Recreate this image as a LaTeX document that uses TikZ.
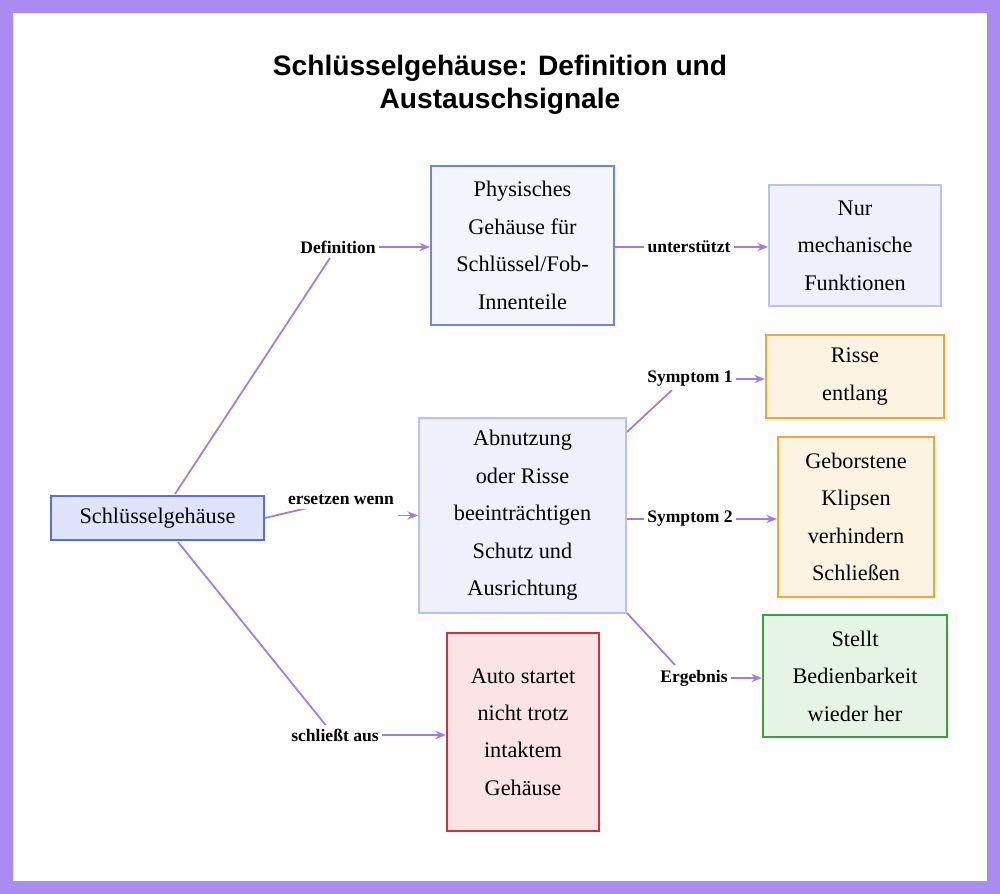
\documentclass[tikz,border=0pt]{standalone}
\usepackage{fontspec}
\setmainfont{Liberation Serif}
\setsansfont{Liberation Sans}
\usetikzlibrary{arrows.meta}
\definecolor{edge}{HTML}{A07CE6}
\definecolor{frame}{HTML}{A98BF2}
\definecolor{bD}{HTML}{5A6FD6}\definecolor{bF}{HTML}{DFE3FB}
\definecolor{pD}{HTML}{6F86DD}\definecolor{pF}{HTML}{F3F5FD}
\definecolor{lD}{HTML}{B6C3F0}\definecolor{lF}{HTML}{EEF0FB}
\definecolor{oD}{HTML}{F0A830}\definecolor{oF}{HTML}{FDF3E3}
\definecolor{gD}{HTML}{3AA040}\definecolor{gF}{HTML}{E6F4E6}
\definecolor{rD}{HTML}{D03040}\definecolor{rF}{HTML}{FBE3E6}
\begin{document}
\begin{tikzpicture}[x=0.03cm,y=-0.03cm,
 box/.style={draw,line width=1.5pt,align=center,font=\fontsize{19}{32}\selectfont,inner sep=0pt},
 lab/.style={fill=white,font=\bfseries\fontsize{15}{17}\selectfont,inner sep=3pt},
 ln/.style={draw=edge,line width=1.5pt},
 ar/.style={ln,-{Stealth[length=9pt,width=7pt]}}]
\useasboundingbox (0,0) rectangle (1000,894);
\fill[frame] (0,0) rectangle (1000,894);
\fill[white] (13,13) rectangle (987,881);
\node[font=\sffamily\bfseries\fontsize{24}{28}\selectfont,align=center] (title) at (500,85) {Schlüsselgehäuse: Definition und\\Austauschsignale};
\def\bx#1#2#3#4#5#6#7#8{\node[box,draw=#6,fill=#7,minimum width=#3*0.03cm-1.5pt,minimum height=#4*0.03cm-1.5pt] (#5) at (#1,#2) {#8};}
\bx{157.5}{518}{215}{46}{root}{bD}{bF}{Schlüsselgehäuse}
\bx{522.5}{245.5}{185}{161}{phys}{pD}{pF}{Physisches\\Gehäuse für\\Schlüssel/Fob-\\Innenteile}
\bx{855}{245.5}{174}{123}{nur}{lD}{lF}{Nur\\mechanische\\Funktionen}
\bx{522.5}{515.5}{209}{197}{abn}{lD}{lF}{Abnutzung\\oder Risse\\beeinträchtigen\\Schutz und\\Ausrichtung}
\bx{855}{376.5}{180}{85}{risse}{oD}{oF}{Risse\\entlang}
\bx{856}{517}{158}{162}{geb}{oD}{oF}{Geborstene\\Klipsen\\verhindern\\Schließen}
\bx{855}{676}{186}{124}{stellt}{gD}{gF}{Stellt\\Bedienbarkeit\\wieder her}
\bx{523}{732}{154}{200}{auto}{rD}{rF}{Auto startet\\nicht trotz\\intaktem\\Gehäuse}
\coordinate (c1) at (338,247); \coordinate (c2) at (341,500);
\coordinate (c3) at (335,735); \coordinate (c4) at (689,247);
\coordinate (c5) at (690,379); \coordinate (c6) at (690,519);
\coordinate (c7) at (694,678);
\coordinate (r1) at (175,494); \coordinate (r3) at (178,542);
\coordinate (a1) at (627,432); \coordinate (a3) at (627,613);
\coordinate (k1) at (330,258); \coordinate (k3) at (328,728);
\coordinate (k5) at (672,390); \coordinate (k7) at (675,665);
\draw[ln] (r1) -- (k1);
\draw[ln] (root.east) -- (c2);
\draw[ln] (r3) -- (k3);
\draw[ln] (phys.east|-c4) -- (c4);
\draw[ln] (a1) -- (k5);
\draw[ln] (abn.east|-c6) -- (c6);
\draw[ln] (a3) -- (k7);
\node[lab] (l1) at (c1) {Definition};
\node[lab] (l2) at (c2) {ersetzen wenn};
\node[lab] (l3) at (c3) {schließt aus};
\node[lab] (l4) at (c4) {unterstützt};
\node[lab] (l5) at (c5) {Symptom 1};
\node[lab] (l6) at (c6) {Symptom 2};
\node[lab] (l7) at (c7) {Ergebnis};
\draw[ar] (l1.east) -- (phys.west|-l1);
\draw[ar] (abn.west-|l2.east) -- (abn.west);
\draw[ar] (l3.east) -- (auto.west|-l3);
\draw[ar] (l4.east) -- (nur.west|-l4);
\draw[ar] (l5.east) -- (risse.west|-l5);
\draw[ar] (l6.east) -- (geb.west|-l6);
\draw[ar] (l7.east) -- (stellt.west|-l7);
\end{tikzpicture}
\end{document}
